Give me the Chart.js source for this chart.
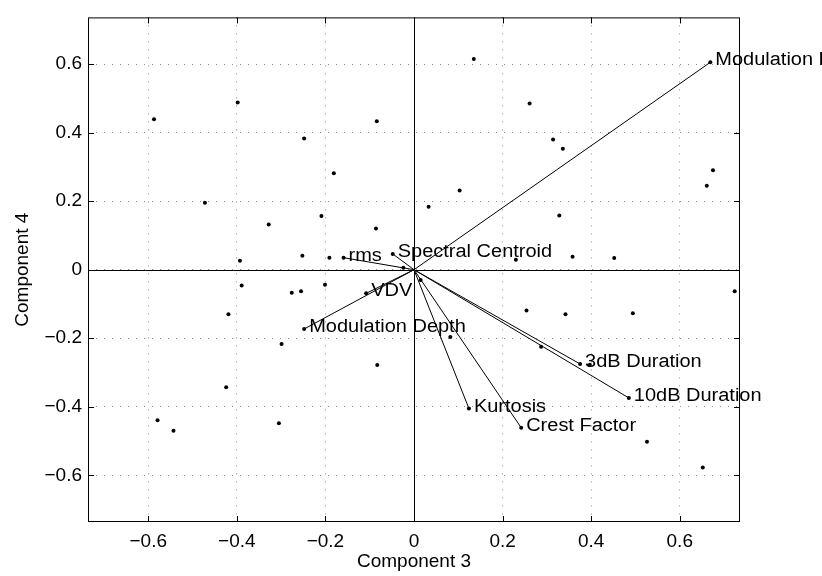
<!DOCTYPE html>
<html>
<head>
<meta charset="utf-8">
<script src="https://cdn.jsdelivr.net/npm/chart.js@4.4.0/dist/chart.umd.min.js"></script>
<style>
  html, body { margin: 0; padding: 0; background: #fff; }
  #wrap { width: 822px; height: 576px; }
</style>
</head>
<body>
<div id="wrap"><canvas id="chart" width="822" height="576"></canvas></div>
<script>
// ===== biplot: component 3 vs component 4 =====
const axisLimit = 0.736;
const tickValues = [-0.6, -0.4, -0.2, 0, 0.2, 0.4, 0.6];

// variable vectors (loadings)
const varNames = ["Modulation Frequency", "Spectral Centroid", "rms", "VDV", "Modulation Depth",
  "3dB Duration", "10dB Duration", "Kurtosis", "Crest Factor"];
const varX = [0.669, -0.048, -0.159, -0.108, -0.248, 0.375, 0.485, 0.124, 0.242];
const varY = [0.605, 0.046, 0.035, -0.069, -0.173, -0.275, -0.374, -0.405, -0.461];

// observation scores
const scoreX = [-0.587, -0.398, -0.084, -0.248, -0.181, -0.472, -0.209, -0.328, -0.086, -0.393,
  -0.252, -0.191, -0.024, 0.135, 0.261, 0.314, 0.336, 0.675, 0.661, 0.103,
  0.033, 0.328, 0.230, 0.358, 0.452, -0.389, -0.276, -0.255, -0.201, -0.419,
  -0.299, -0.083, -0.424, -0.579, -0.543, -0.305, 0.015, 0.254, 0.342, 0.494,
  0.724, 0.082, 0.287, 0.397, 0.526, 0.652];
const scoreY = [0.439, 0.488, 0.433, 0.383, 0.281, 0.195, 0.157, 0.132, 0.120, 0.026,
  0.041, 0.035, 0.006, 0.615, 0.485, 0.380, 0.353, 0.290, 0.245, 0.231,
  0.184, 0.158, 0.029, 0.038, 0.034, -0.046, -0.067, -0.063, -0.044, -0.130,
  -0.217, -0.278, -0.343, -0.439, -0.470, -0.448, -0.030, -0.119, -0.130, -0.127,
  -0.063, -0.196, -0.225, -0.277, -0.502, -0.577];

const FONT = "'Liberation Sans', Arial, Helvetica, sans-serif";

const datasets = [{
  data: scoreX.map((x, i) => ({ x, y: scoreY[i] })),
  pointRadius: 2,
  pointBackgroundColor: "#000",
  pointBorderWidth: 0,
  showLine: false
}];
varNames.forEach((name, i) => {
  datasets.push({
    label: name,
    data: [{ x: 0, y: 0 }, { x: varX[i], y: varY[i] }],
    showLine: true,
    borderColor: "#000",
    borderWidth: 1,
    pointRadius: [0, 2],
    pointBackgroundColor: "#000",
    pointBorderWidth: 0
  });
});

const fmt = v => v === 0 ? "0" : (v < 0 ? "\u2212" : "") + Math.abs(v).toFixed(1);

// zero lines, box, inner ticks, vector labels
const biplotDecor = {
  id: "biplotDecor",
  beforeDatasetsDraw(chart) {
    const { ctx, chartArea: a, scales: { x, y } } = chart;
    const x0 = Math.round(x.getPixelForValue(0)) + 0.5;
    const y0 = Math.round(y.getPixelForValue(0)) + 0.5;
    ctx.save();
    ctx.strokeStyle = "#000";
    ctx.lineWidth = 1;
    ctx.beginPath();
    ctx.moveTo(a.left, y0); ctx.lineTo(a.right, y0);
    ctx.moveTo(x0, a.top); ctx.lineTo(x0, a.bottom);
    ctx.stroke();
    ctx.restore();
  },
  afterDatasetsDraw(chart) {
    const { ctx, chartArea: a, scales: { x, y } } = chart;
    ctx.save();
    ctx.strokeStyle = "#000";
    ctx.lineWidth = 1;
    ctx.strokeRect(a.left + 0.5, a.top + 0.5, a.right - a.left - 1, a.bottom - a.top - 1);
    const tl = 6;
    ctx.beginPath();
    tickValues.forEach(v => {
      const px = Math.round(x.getPixelForValue(v)) + 0.5;
      ctx.moveTo(px, a.bottom); ctx.lineTo(px, a.bottom - tl);
      ctx.moveTo(px, a.top); ctx.lineTo(px, a.top + tl);
      const py = Math.round(y.getPixelForValue(v)) + 0.5;
      ctx.moveTo(a.left, py); ctx.lineTo(a.left + tl, py);
      ctx.moveTo(a.right, py); ctx.lineTo(a.right - tl, py);
    });
    ctx.stroke();

    // labels: slightly wide lettering like the original export
    ctx.fillStyle = "#000";
    ctx.font = "18px " + FONT;
    ctx.textAlign = "left";
    ctx.textBaseline = "alphabetic";
    varNames.forEach((name, i) => {
      const px = x.getPixelForValue(varX[i]);
      const py = y.getPixelForValue(varY[i]);
      ctx.save();
      ctx.translate(px + 5, py + 3);
      ctx.scale(1.11, 1);
      ctx.fillText(name, 0, 0);
      ctx.restore();
    });
    ctx.restore();
  }
};

const setTicks = scale => { scale.ticks = tickValues.map(v => ({ value: v })); };

new Chart(document.getElementById("chart"), {
  type: "scatter",
  data: { datasets },
  options: {
    responsive: false,
    animation: false,
    layout: { padding: { top: 8, right: 82, left: 0, bottom: 0 } },
    plugins: { legend: { display: false }, tooltip: { enabled: false } },
    scales: {
      x: {
        type: "linear",
        min: -axisLimit,
        max: axisLimit,
        afterBuildTicks: setTicks,
        afterFit: s => { s.height = 54; },
        grid: { color: "#8c8c8c", lineWidth: 1, drawTicks: false },
        border: { display: false, dash: [1, 7] },
        ticks: { callback: fmt, padding: 8, color: "#000", font: { family: FONT, size: 19 }, maxRotation: 0 },
        title: { display: true, text: "Component 3", color: "#000", font: { family: FONT, size: 19 }, padding: { top: 0, bottom: 3 } }
      },
      y: {
        type: "linear",
        min: -axisLimit,
        max: axisLimit,
        afterBuildTicks: setTicks,
        afterFit: s => { s.width = 88; },
        grid: { color: "#8c8c8c", lineWidth: 1, drawTicks: false },
        border: { display: false, dash: [1, 7] },
        ticks: { callback: fmt, padding: 6, color: "#000", font: { family: FONT, size: 19 } },
        title: { display: true, text: "Component 4", color: "#000", font: { family: FONT, size: 19 }, padding: { top: 11, bottom: 0 } }
      }
    }
  },
  plugins: [biplotDecor]
});
</script>
</body>
</html>
